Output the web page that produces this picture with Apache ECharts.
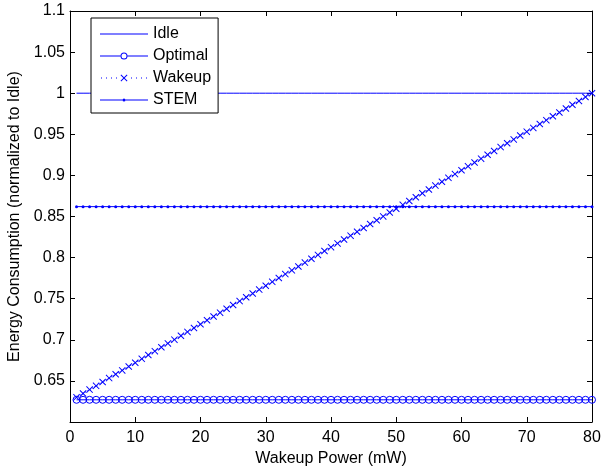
<!DOCTYPE html>
<html>
<head>
<meta charset="utf-8">
<script src="https://cdn.jsdelivr.net/npm/echarts@6/dist/echarts.min.js"></script>
<style>html,body{margin:0;padding:0;background:#fff}#c{width:603px;height:467px}</style>
</head>
<body>
<div id="c"></div>
<script>
const wakeupPower = [1,2,3,4,5,6,7,8,9,10,11,12,13,14,15,16,17,18,19,20,21,22,23,24,25,26,27,28,29,30,31,32,33,34,35,36,37,38,39,40,41,42,43,44,45,46,47,48,49,50,51,52,53,54,55,56,57,58,59,60,61,62,63,64,65,66,67,68,69,70,71,72,73,74,75,76,77,78,79,80];
const idle = [1,1,1,1,1,1,1,1,1,1,1,1,1,1,1,1,1,1,1,1,1,1,1,1,1,1,1,1,1,1,1,1,1,1,1,1,1,1,1,1,1,1,1,1,1,1,1,1,1,1,1,1,1,1,1,1,1,1,1,1,1,1,1,1,1,1,1,1,1,1,1,1,1,1,1,1,1,1,1,1];
const optimal = [0.627,0.627,0.627,0.627,0.627,0.627,0.627,0.627,0.627,0.627,0.627,0.627,0.627,0.627,0.627,0.627,0.627,0.627,0.627,0.627,0.627,0.627,0.627,0.627,0.627,0.627,0.627,0.627,0.627,0.627,0.627,0.627,0.627,0.627,0.627,0.627,0.627,0.627,0.627,0.627,0.627,0.627,0.627,0.627,0.627,0.627,0.627,0.627,0.627,0.627,0.627,0.627,0.627,0.627,0.627,0.627,0.627,0.627,0.627,0.627,0.627,0.627,0.627,0.627,0.627,0.627,0.627,0.627,0.627,0.627,0.627,0.627,0.627,0.627,0.627,0.627,0.627,0.627,0.627,0.627];
const wakeup = [0.6300,0.6347,0.6394,0.6440,0.6487,0.6534,0.6581,0.6628,0.6675,0.6721,0.6768,0.6815,0.6862,0.6909,0.6956,0.7002,0.7049,0.7096,0.7143,0.7190,0.7237,0.7283,0.7330,0.7377,0.7424,0.7471,0.7518,0.7564,0.7611,0.7658,0.7705,0.7752,0.7799,0.7845,0.7892,0.7939,0.7986,0.8033,0.8080,0.8127,0.8173,0.8220,0.8267,0.8314,0.8361,0.8408,0.8454,0.8501,0.8548,0.8595,0.8642,0.8689,0.8735,0.8782,0.8829,0.8876,0.8923,0.8970,0.9016,0.9063,0.9110,0.9157,0.9204,0.9251,0.9297,0.9344,0.9391,0.9438,0.9485,0.9532,0.9578,0.9625,0.9672,0.9719,0.9766,0.9813,0.9860,0.9906,0.9953,1.0000];
const stem = [0.862,0.862,0.862,0.862,0.862,0.862,0.862,0.862,0.862,0.862,0.862,0.862,0.862,0.862,0.862,0.862,0.862,0.862,0.862,0.862,0.862,0.862,0.862,0.862,0.862,0.862,0.862,0.862,0.862,0.862,0.862,0.862,0.862,0.862,0.862,0.862,0.862,0.862,0.862,0.862,0.862,0.862,0.862,0.862,0.862,0.862,0.862,0.862,0.862,0.862,0.862,0.862,0.862,0.862,0.862,0.862,0.862,0.862,0.862,0.862,0.862,0.862,0.862,0.862,0.862,0.862,0.862,0.862,0.862,0.862,0.862,0.862,0.862,0.862,0.862,0.862,0.862,0.862,0.862,0.862];
const seriesNames = ['Idle','Optimal','Wakeup','STEM'];
const xTitle = 'Wakeup Power (mW)';
const yTitle = 'Energy Consumption (normalized to Idle)';

const FONT = 'Liberation Sans, Arial, Helvetica, sans-serif';
const BLUE = '#0000ff';
const pairs = arr => wakeupPower.map((x, i) => [x, arr[i]]);
const crossPath = 'path://M0,1L1,0L5,4L9,0L10,1L6,5L10,9L9,10L5,6L1,10L0,9L4,5Z';

// legend icons drawn in a 48x14 box (corner specks fix the bounding box)
const BOX = 'M0,0L0.01,0L0,0.01Z M48,14L47.99,14L48,13.99Z ';
const seg = (a, b) => `M${a},6.5L${b},6.5L${b},7.5L${a},7.5Z `;
let dots = '';
[1, 6, 11, 16, 31, 36, 41, 46].forEach(x => { dots += seg(x, x + 1); });
const legendIcons = {
  Idle: 'path://' + BOX + seg(0, 48),
  Optimal: 'path://' + BOX + seg(0, 20.5) + seg(27.5, 48) +
    'M27.5,7A3.5,3.5 0 1,0 20.5,7A3.5,3.5 0 1,0 27.5,7Z M26.5,7A2.5,2.5 0 1,1 21.5,7A2.5,2.5 0 1,1 26.5,7Z',
  Wakeup: 'path://' + BOX + dots +
    'M20.5,4.2L21.2,3.5L24,6.3L26.8,3.5L27.5,4.2L24.7,7L27.5,9.8L26.8,10.5L24,7.7L21.2,10.5L20.5,9.8L23.3,7Z',
  STEM: 'path://' + BOX + seg(0, 22.5) + seg(25.5, 48) +
    'M25.5,7A1.5,1.5 0 1,1 22.5,7A1.5,1.5 0 1,1 25.5,7Z'
};

const axisCommon = {
  axisLine: {show: true, onZero: false, lineStyle: {color: '#000', width: 1}},
  axisTick: {show: true, inside: true, length: 5, lineStyle: {color: '#000', width: 1}},
  splitLine: {show: false}
};

const chart = echarts.init(document.getElementById('c'), null, {renderer: 'canvas'});
chart.setOption({
  animation: false,
  backgroundColor: '#fff',
  textStyle: {fontFamily: FONT},
  grid: {left: 70, right: 11, top: 11, bottom: 45, containLabel: false, outerBoundsMode: 'none'},
  legend: {
    orient: 'vertical', left: 91, top: 18,
    padding: [8, 7, 5, 9], itemGap: 6, itemWidth: 48, itemHeight: 14,
    borderColor: '#000', borderWidth: 1, backgroundColor: '#fff',
    textStyle: {fontFamily: FONT, fontSize: 16, color: '#000'},
    data: seriesNames.map(n => ({name: n, icon: legendIcons[n],
      itemStyle: {color: BLUE, borderWidth: 0, opacity: 1}})),
    z: 10
  },
  xAxis: [
    Object.assign({type: 'value', position: 'bottom', min: 0, max: 80, interval: 10,
      name: xTitle, nameLocation: 'middle', nameGap: 22,
      nameTextStyle: {fontFamily: FONT, fontSize: 16, color: '#000'},
      axisLabel: {fontFamily: FONT, fontSize: 16, color: '#000', margin: 8}}, axisCommon),
    Object.assign({type: 'value', position: 'top', min: 0, max: 80, interval: 10,
      axisLabel: {show: false}}, axisCommon)
  ],
  yAxis: [
    Object.assign({type: 'value', position: 'left', min: 0.6, max: 1.1, interval: 0.05,
      name: yTitle, nameLocation: 'middle', nameGap: 39,
      nameTextStyle: {fontFamily: FONT, fontSize: 16, color: '#000'},
      axisLabel: {fontFamily: FONT, fontSize: 16, color: '#000', margin: 5, showMinLabel: false,
        formatter: v => String(Math.round(v * 100) / 100)}}, axisCommon),
    Object.assign({type: 'value', position: 'right', min: 0.6, max: 1.1, interval: 0.05,
      axisLabel: {show: false}}, axisCommon)
  ],
  series: [
    {name: seriesNames[0], type: 'line', data: pairs(idle), symbol: 'none',
      lineStyle: {color: BLUE, width: 1}, itemStyle: {color: BLUE}},
    {name: seriesNames[1], type: 'line', data: pairs(optimal), symbol: 'circle', symbolSize: 7, showAllSymbol: true,
      lineStyle: {color: BLUE, width: 1},
      itemStyle: {color: 'rgba(0,0,0,0)', borderColor: BLUE, borderWidth: 1}},
    {name: seriesNames[2], type: 'line', data: pairs(wakeup), symbol: crossPath, symbolSize: 7, showAllSymbol: true,
      lineStyle: {color: BLUE, width: 1, type: 'dotted'},
      itemStyle: {color: BLUE}},
    {name: seriesNames[3], type: 'line', data: pairs(stem), symbol: 'circle', symbolSize: 3, showAllSymbol: true,
      lineStyle: {color: BLUE, width: 1},
      itemStyle: {color: BLUE}}
  ]
});
</script>
</body>
</html>
